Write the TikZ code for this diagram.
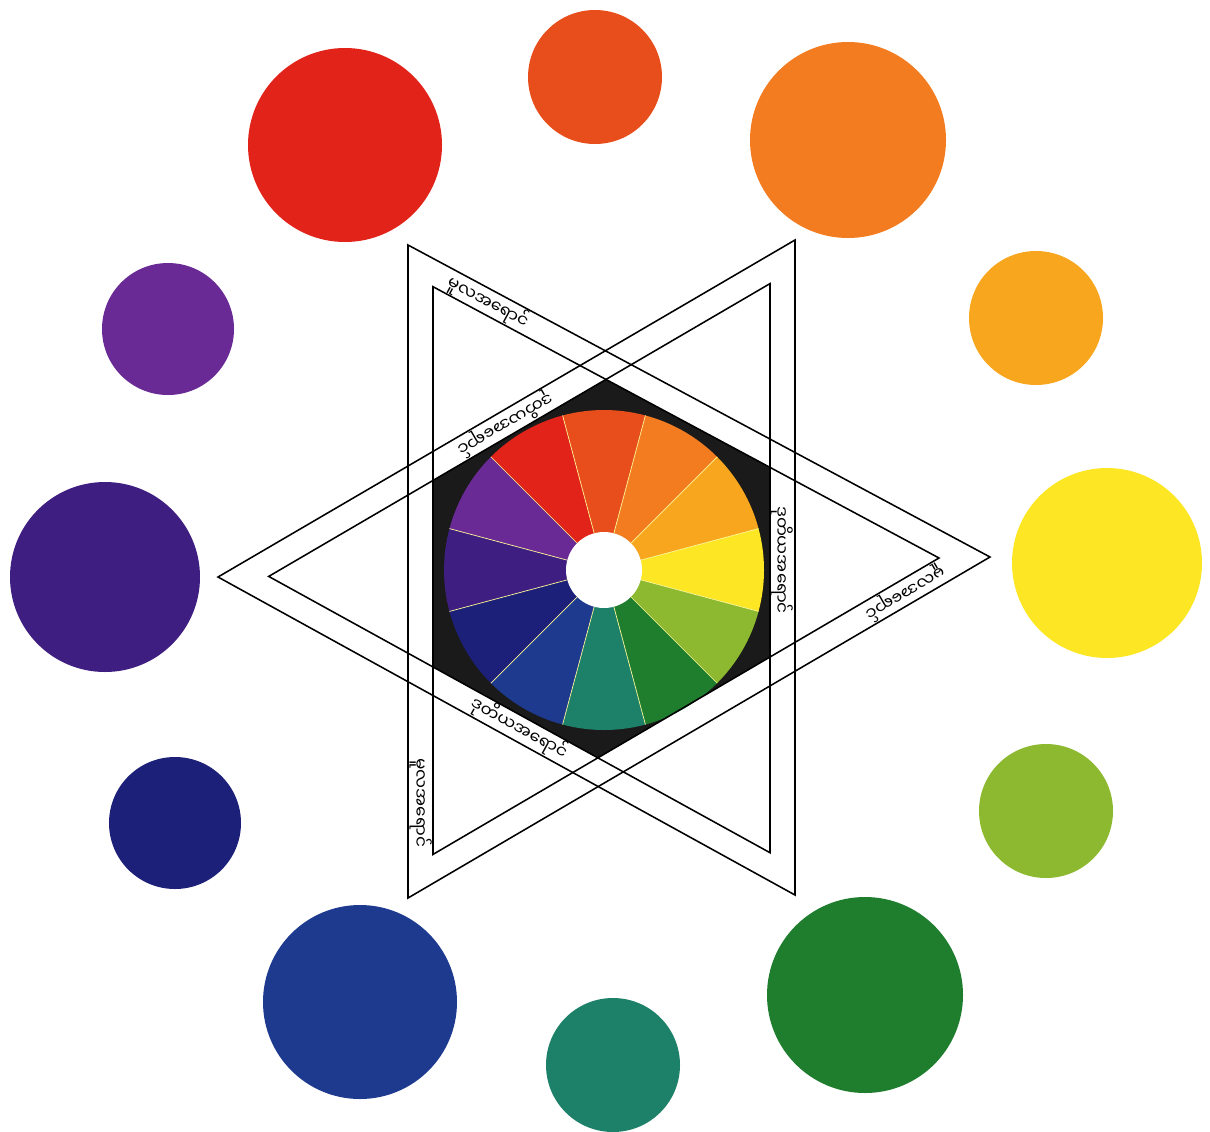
\documentclass[tikz,border=0pt]{standalone}
\usepackage{fontspec}
\newfontfamily\mya[Script=Myanmar]{Noto Sans Myanmar UI}
\usetikzlibrary{calc}
\definecolor{wred}{RGB}{226,35,26}
\definecolor{wredor}{RGB}{232,78,27}
\definecolor{wor}{RGB}{243,124,32}
\definecolor{wyelor}{RGB}{247,166,30}
\definecolor{wyel}{RGB}{253,230,36}
\definecolor{wyelgr}{RGB}{141,185,48}
\definecolor{wgr}{RGB}{31,125,46}
\definecolor{wbluegr}{RGB}{29,128,105}
\definecolor{wblue}{RGB}{30,58,143}
\definecolor{wbluevi}{RGB}{28,32,120}
\definecolor{wvio}{RGB}{62,30,128}
\definecolor{wredvi}{RGB}{106,42,150}
\definecolor{hexblack}{RGB}{26,26,26}
\tikzset{
  bnd/.style={draw=black,line width=1.1pt,line join=miter},
  lbl/.style={font=\mya\fontsize{12}{12}\selectfont,inner sep=0pt},
  sep/.style={draw=white!60!yellow,line width=0.5pt},
}
\begin{document}
\begin{tikzpicture}[x=0.25mm,y=-0.25mm]
  \useasboundingbox (0,0) rectangle (1210,1131);
  \coordinate (ctr) at (604,570);
  % ring of colour discs
  \foreach \cx/\cy/\col/\rad in {595/77/wredor/67,848/140/wor/98,
      1036/318/wyelor/67,1107/563/wyel/95,1046/811/wyelgr/67,
      865/995/wgr/98,613/1065/wbluegr/67,360/1002/wblue/97,
      175/823/wbluevi/66,105/577/wvio/95,168/329/wredvi/66,
      345/145/wred/97}
    \fill[\col] (\cx,\cy) circle[radius=\rad];
  % triangles: primary points right, secondary points left
  \coordinate (po1) at (408,245);   \coordinate (po2) at (990,557);
  \coordinate (po3) at (408,898);
  \coordinate (pi1) at (433,286.7); \coordinate (pi2) at (939,558);
  \coordinate (pi3) at (433,854.4);
  \coordinate (so1) at (218,577);   \coordinate (so2) at (795,240);
  \coordinate (so3) at (795,895);
  \coordinate (si1) at (268.7,576.4); \coordinate (si2) at (770,283.6);
  \coordinate (si3) at (770,852.7);
  % black hexagon
  \begin{scope}
    \clip (pi1) -- (pi2) -- (pi3) -- cycle;
    \fill[hexblack] (si1) -- (si2) -- (si3) -- cycle;
  \end{scope}
  % colour wheel
  \foreach \ang/\col in {-90/wredor,-60/wor,-30/wyelor,0/wyel,30/wyelgr,
      60/wgr,90/wbluegr,120/wblue,150/wbluevi,180/wvio,210/wredvi,240/wred}
    \fill[\col] (ctr) -- ++({\ang-15}:160)
      arc[start angle=\ang-15,end angle=\ang+15,radius=160] -- cycle;
  \foreach \ang in {-105,-75,...,225}
    \draw[sep] ($(ctr)+(\ang:38)$) -- ($(ctr)+(\ang:160)$);
  \fill[white] (ctr) circle[radius=38];
  % outlines
  \draw[bnd] (po1) -- (po2) -- (po3) -- cycle;
  \draw[bnd] (pi1) -- (pi2) -- (pi3) -- cycle;
  \draw[bnd] (so1) -- (so2) -- (so3) -- cycle;
  \draw[bnd] (si1) -- (si2) -- (si3) -- cycle;
  % labels
  \node[lbl,rotate=-28.2] (lp1) at (488,302) {မူလအရောင်};
  \node[lbl,rotate=210.4] (lp2) at (905,593) {မူလအရောင်};
  \node[lbl,rotate=-90]   (lp3) at (421,803) {မူလအရောင်};
  \node[lbl,rotate=210.3] (ls1) at (505,424) {ဒုတိယအရောင်};
  \node[lbl,rotate=-90]   (ls2) at (782,560) {ဒုတိယအရောင်};
  \node[lbl,rotate=-28.9] (ls3) at (519,728) {ဒုတိယအရောင်};
\end{tikzpicture}
\end{document}
